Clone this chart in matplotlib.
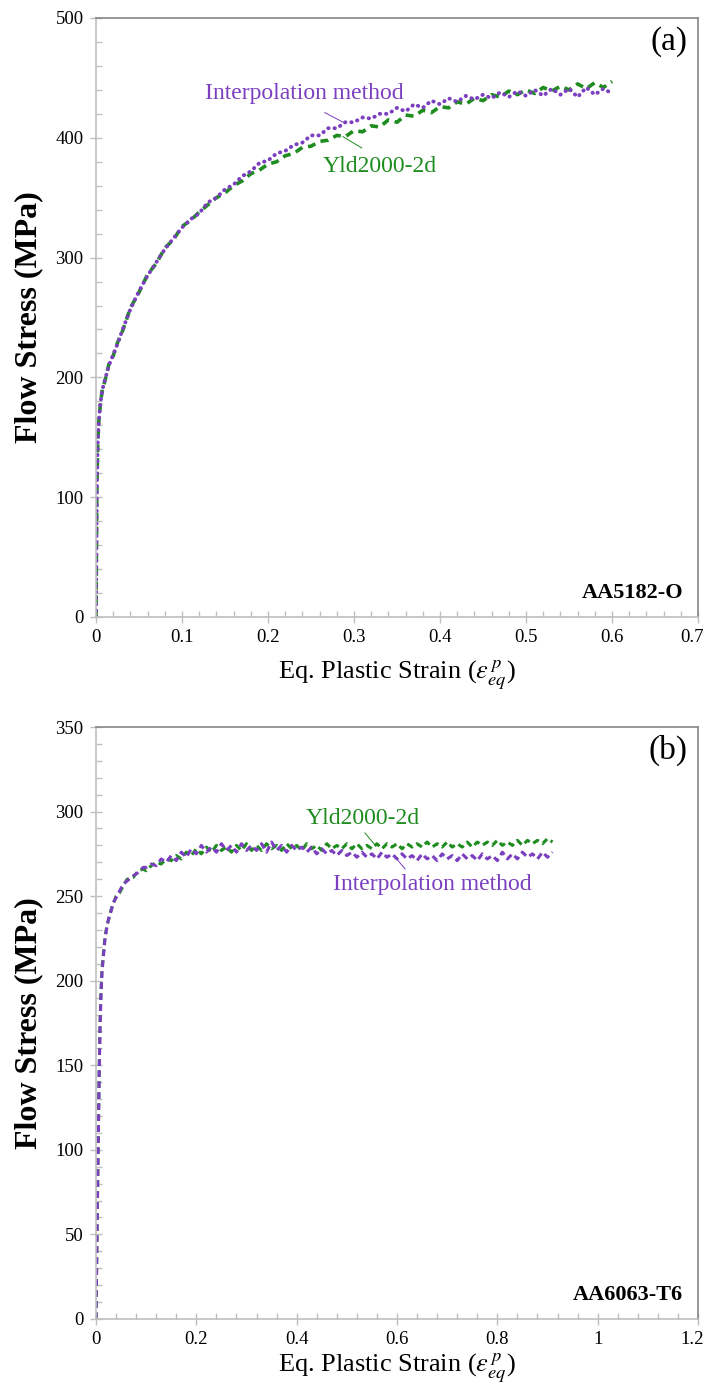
import numpy as np
import matplotlib
matplotlib.use("Agg")
import matplotlib.pyplot as plt
import matplotlib.transforms as mtransforms
from matplotlib.ticker import MultipleLocator, FormatStrFormatter, FuncFormatter

# === data ===
# (a) AA5182-O
strain_a = [0, 0.0005, 0.001, 0.002, 0.003, 0.005, 0.0075, 0.01, 0.015, 0.02,
            0.025, 0.03, 0.04, 0.05, 0.06, 0.07, 0.08, 0.09, 0.10,
            0.11, 0.12, 0.13, 0.14, 0.15, 0.16, 0.17, 0.18, 0.19, 0.20,
            0.21, 0.22, 0.23, 0.24, 0.25, 0.26, 0.27, 0.28, 0.29, 0.30,
            0.31, 0.32, 0.33, 0.34, 0.35, 0.36, 0.37, 0.38, 0.39, 0.40,
            0.41, 0.42, 0.43, 0.44, 0.45, 0.46, 0.47, 0.48, 0.49, 0.50,
            0.51, 0.52, 0.53, 0.54, 0.55, 0.56, 0.57, 0.58, 0.59, 0.60]
interp_a = [0, 60, 110, 145, 160, 178, 190, 197, 210, 219,
            228, 238, 257, 272, 285, 296, 307, 316, 325,
            332, 337, 346, 350, 357, 361, 368, 372, 379, 381,
            387, 389, 394, 396, 402, 402, 408, 408, 413, 413,
            417, 416, 420, 420, 425, 422, 428, 425, 431, 428,
            433, 430, 435, 432, 436, 433, 438, 434, 439, 435,
            440, 435, 441, 436, 441, 434, 442, 436, 441, 437]
yld_a = [0, 58, 108, 144, 161, 177, 191, 196, 211, 218,
         229, 237, 258, 271, 286, 295, 308, 315, 326,
         331, 338, 344, 350, 354, 360, 364, 370, 373, 378,
         380, 385, 387, 392, 393, 397, 398, 402, 401, 406,
         405, 410, 409, 415, 413, 419, 418, 423, 421, 426,
         425, 430, 428, 433, 431, 436, 434, 439, 436, 440,
         437, 442, 439, 443, 440, 445, 441, 446, 442, 447]

# (b) AA6063-T6
strain_b = [0, 0.001, 0.002, 0.003, 0.004, 0.005, 0.0065, 0.008, 0.01, 0.012,
            0.015, 0.018, 0.022, 0.026, 0.03, 0.034, 0.04, 0.047, 0.054, 0.062,
            0.074, 0.084, 0.094,
            0.10, 0.11, 0.12, 0.13, 0.14, 0.15, 0.16, 0.17, 0.18, 0.19,
            0.20, 0.21, 0.22, 0.23, 0.24, 0.25, 0.26, 0.27, 0.28, 0.29,
            0.30, 0.31, 0.32, 0.33, 0.34, 0.35, 0.36, 0.37, 0.38, 0.39,
            0.40, 0.41, 0.42, 0.43, 0.44, 0.45, 0.46, 0.47, 0.48, 0.49,
            0.50, 0.51, 0.52, 0.53, 0.54, 0.55, 0.56, 0.57, 0.58, 0.59,
            0.60, 0.61, 0.62, 0.63, 0.64, 0.65, 0.66, 0.67, 0.68, 0.69,
            0.70, 0.71, 0.72, 0.73, 0.74, 0.75, 0.76, 0.77, 0.78, 0.79,
            0.80, 0.81, 0.82, 0.83, 0.84, 0.85, 0.86, 0.87, 0.88, 0.89,
            0.90, 0.91]
interp_b = [0, 25, 50, 72, 95, 115, 148, 172, 192, 205,
            215, 225, 232, 238, 241, 246, 249, 253, 257, 259,
            262, 264, 267,
            267, 269, 268, 272, 270, 274, 271, 276, 273, 278,
            275, 280, 276, 279, 276, 281, 277, 280, 276, 281,
            277, 280, 277, 281, 276, 282, 277, 280, 276, 280,
            277, 279, 276, 279, 275, 278, 275, 277, 274, 277,
            274, 276, 273, 276, 273, 275, 272, 276, 273, 275,
            272, 275, 272, 274, 271, 275, 272, 274, 271, 275,
            272, 274, 271, 275, 272, 274, 271, 275, 272, 274,
            271, 276, 272, 275, 272, 276, 273, 275, 272, 276,
            273, 276]
yld_b = [0, 24, 49, 73, 96, 118, 150, 174, 195, 207,
         217, 226, 233, 237, 242, 245, 250, 252, 256, 260,
         261, 265, 266,
         265, 268, 270, 269, 272, 271, 274, 272, 276, 274,
         278, 275, 279, 276, 280, 277, 279, 276, 280, 277,
         281, 277, 280, 277, 281, 278, 280, 277, 281, 278,
         280, 277, 281, 278, 280, 277, 281, 278, 280, 278,
         281, 278, 281, 278, 280, 278, 281, 278, 281, 279,
         281, 278, 281, 279, 281, 279, 282, 279, 281, 279,
         282, 279, 281, 279, 282, 279, 282, 280, 282, 280,
         283, 280, 282, 280, 283, 280, 283, 281, 283, 281,
         284, 282]

# === style ===
plt.rcParams.update({
    'font.family': ['Liberation Serif', 'DejaVu Serif'],
    'mathtext.fontset': 'stix',
    'font.size': 14,
})

c_interp = "#7B3FBF"
c_yld = "#1E8C1E"
c_spine_light = "#BFBFBF"
c_spine_dark = "#868686"

fig = plt.figure(figsize=(7.07, 13.84), dpi=100)
ax_a = fig.add_axes([0.1358, 0.5542, 0.8515, 0.4328])
ax_b = fig.add_axes([0.1358, 0.0470, 0.8515, 0.4277])


def fmt_strain(v, pos):
    s = f"{v:.1f}"
    if s.endswith(".0"):
        s = s[:-2]
    return s


def style_axes(ax, xmax, xmajor, xminor, ymax, ymajor, yminor, xlabelpad):
    ax.set_xlim(0, xmax)
    ax.set_ylim(0, ymax)
    ax.xaxis.set_major_locator(MultipleLocator(xmajor))
    ax.xaxis.set_minor_locator(MultipleLocator(xminor))
    ax.yaxis.set_major_locator(MultipleLocator(ymajor))
    ax.yaxis.set_minor_locator(MultipleLocator(yminor))
    ax.xaxis.set_major_formatter(FuncFormatter(fmt_strain))
    ax.yaxis.set_major_formatter(FormatStrFormatter('%d'))
    ax.spines['left'].set_color(c_spine_light)
    ax.spines['bottom'].set_color(c_spine_light)
    ax.spines['top'].set_color(c_spine_dark)
    ax.spines['right'].set_color(c_spine_dark)
    for s in ax.spines.values():
        s.set_linewidth(1.2)
    ax.tick_params(which='major', direction='inout', length=8, width=1,
                   color=c_spine_light, labelsize=13.5, pad=5,
                   top=False, right=False)
    ax.tick_params(which='minor', direction='in', length=4, width=1,
                   color=c_spine_light, top=False, right=False)
    ax.set_xlabel(r'Eq. Plastic Strain ($\varepsilon_{eq}^{\,p}$)', fontsize=19,
                  labelpad=xlabelpad)
    ax.set_ylabel('Flow Stress (MPa)', fontsize=23, fontweight='bold', labelpad=9)


def nudge_last_xlabel(ax):
    # keep the last strain label (at the right frame edge) inside the figure
    fig.canvas.draw()
    shift = mtransforms.ScaledTranslation(-6 / 100, 0, fig.dpi_scale_trans)
    for lbl in ax.get_xticklabels():
        x = lbl.get_position()[0]
        if abs(x - ax.get_xlim()[1]) < 1e-9:
            lbl.set_transform(lbl.get_transform() + shift)


# --- (a) ---
ax_a.plot(strain_a, yld_a, color=c_yld, lw=2.6, linestyle=(0, (2.2, 1.6)))
ax_a.plot(strain_a, interp_a, color=c_interp, lw=2.8, linestyle=(0, (0.1, 1.5)),
          dash_capstyle='round')
style_axes(ax_a, 0.7, 0.1, 0.02, 500, 100, 20, 8)

ax_a.text(0.242, 437, 'Interpolation method', color=c_interp, fontsize=17,
          ha='center', va='center')
ax_a.plot([0.266, 0.290], [421, 412], color=c_interp, lw=0.7)
ax_a.text(0.330, 376, 'Yld2000-2d', color=c_yld, fontsize=17,
          ha='center', va='center')
ax_a.plot([0.287, 0.309], [401, 391.5], color=c_yld, lw=0.7)
ax_a.text(0.982, 0.96, '(a)', transform=ax_a.transAxes, fontsize=24,
          ha='right', va='center')
ax_a.text(0.975, 0.04, 'AA5182-O', transform=ax_a.transAxes, fontsize=16,
          fontweight='bold', ha='right', va='center')

# --- (b) ---
ax_b.plot(strain_b, yld_b, color=c_yld, lw=2.2, linestyle=(0, (2.2, 1.4)))
ax_b.plot(strain_b, interp_b, color=c_interp, lw=2.2, linestyle=(0, (2.2, 1.4)))
style_axes(ax_b, 1.2, 0.2, 0.04, 350, 50, 10, 2)

ax_b.text(0.532, 295.7, 'Yld2000-2d', color=c_yld, fontsize=17,
          ha='center', va='center')
ax_b.plot([0.536, 0.556], [287.4, 280.3], color=c_yld, lw=0.7)
ax_b.text(0.670, 256.7, 'Interpolation method', color=c_interp, fontsize=17,
          ha='center', va='center')
ax_b.plot([0.596, 0.616], [273.2, 266.1], color=c_interp, lw=0.7)
ax_b.text(0.982, 0.96, '(b)', transform=ax_b.transAxes, fontsize=24,
          ha='right', va='center')
ax_b.text(0.975, 0.04, 'AA6063-T6', transform=ax_b.transAxes, fontsize=16,
          fontweight='bold', ha='right', va='center')

nudge_last_xlabel(ax_a)
nudge_last_xlabel(ax_b)

fig.savefig("out.png", dpi=100)
